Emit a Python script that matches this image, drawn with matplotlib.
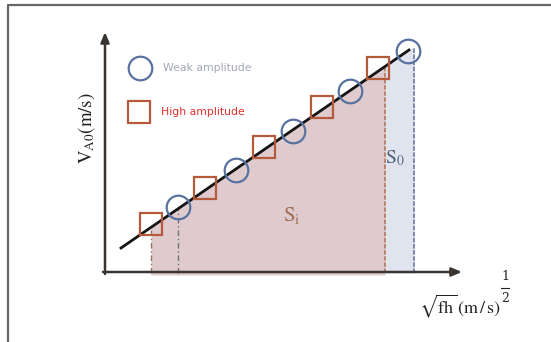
import matplotlib
matplotlib.use("Agg")
import matplotlib.pyplot as plt
import numpy as np

plt.rcParams["mathtext.fontset"] = "stix"
plt.rcParams["font.family"] = ["DejaVu Sans"]

# Diagram data (axis units: origin at the axes' corner)
line_x = [16, 304]
line_y = [24, 222]
weak_x = [73, 131, 188, 245, 303]
weak_y = [65, 102, 141, 181, 221]
high_x = [46, 100, 159, 217, 273]
high_y = [48, 84, 125, 165, 204]
si_x = [46, 280]          # S_i region bounds
s0_x = [280, 309]         # S_0 region bounds
s0_top = 225
legend_labels = ["Weak amplitude", "High amplitude"]

fig = plt.figure(figsize=(5.51, 3.42), dpi=100)
ax = fig.add_axes([0, 0, 1, 1])
ax.set_xlim(-105, 446)
ax.set_ylim(-70, 272)
ax.axis("off")

# outer frame
ax.plot([-97, -97, 446], [-72, 267, 267], color="#666666", lw=1.6,
        clip_on=False, solid_capstyle="butt")

def line_at(x):
    slope = (line_y[1] - line_y[0]) / (line_x[1] - line_x[0])
    return line_y[0] + slope * (np.asarray(x) - line_x[0])

# S_i fill (pink)
xs = np.linspace(si_x[0], si_x[1], 50)
ax.fill_between(xs, -3, line_at(xs), color="#dcc6c8", alpha=0.9, lw=0, zorder=1)
# S_0 fill (light blue)
xs2 = np.array([s0_x[0], s0_x[1]])
ax.fill_between(xs2, -1, [line_at(s0_x[0]), s0_top], color="#dfe4ee", lw=0, zorder=1)

# vertical dashed lines
ax.plot([si_x[0], si_x[0]], [-1, line_at(si_x[0])], color="#9a7060", lw=1, ls=(0, (4, 2, 1, 2)), zorder=2)
ax.plot([weak_x[0], weak_x[0]], [-1, line_at(weak_x[0])], color="#707080", lw=1, ls=(0, (4, 2, 1, 2)), zorder=2)
ax.plot([si_x[1], si_x[1]], [-1, line_at(si_x[1])], color="#b0704f", lw=1.1, ls=(0, (3, 1)), zorder=2)
ax.plot([s0_x[1], s0_x[1]], [-1, s0_top], color="#6070a0", lw=1.1, ls=(0, (3, 1)), zorder=2)

# axes arrows
ax.annotate("", xy=(357, 0), xytext=(-2, 0),
            arrowprops=dict(arrowstyle="-|>,head_length=0.6,head_width=0.25", color="#3a3530", lw=1.8,
                            shrinkA=0, shrinkB=0), zorder=3)
ax.annotate("", xy=(0, 240), xytext=(0, -2),
            arrowprops=dict(arrowstyle="-|>,head_length=0.6,head_width=0.25", color="#3a3530", lw=1.8,
                            shrinkA=0, shrinkB=0), zorder=3)

# fitted line
ax.plot(line_x, line_y, color="#151515", lw=2, zorder=4)

# markers
ax.plot(high_x, high_y, ls="none", marker="s", ms=16.5, mfc="none", mec="#b65a3c", mew=1.6, zorder=5)
ax.plot(weak_x, weak_y, ls="none", marker="o", ms=17, mfc="none", mec="#5872a0", mew=1.6, zorder=5)

# legend (manual)
ax.plot([35], [204], marker="o", ms=17, mfc="none", mec="#5872a0", mew=1.6)
ax.plot([34], [160], marker="s", ms=16.5, mfc="none", mec="#b65a3c", mew=1.6)
ax.text(58, 204, legend_labels[0], color="#a3a7b5", fontsize=7.8, va="center", ha="left")
ax.text(56, 160, legend_labels[1], color="#e0302a", fontsize=7.8, va="center", ha="left")

# region labels
ax.text(187, 57, r"$\mathrm{S_i}$", color="#a0705a", fontsize=15, ha="center", va="center")
ax.text(290, 114, r"$\mathrm{S_0}$", color="#55657e", fontsize=14, ha="center", va="center")

# axis labels
ax.text(-18, 144, r"$\mathrm{V_{A0}(m/s)}$", rotation=90, fontsize=13.5, ha="center", va="center",
        color="#222222")
ax.text(355, -34, r"$\sqrt{\mathrm{fh}}\,\mathrm{(m\,/\,s)}$", fontsize=13,
        ha="center", va="center", color="#222222")
ax.text(400, -5, "1", fontsize=9, ha="center", va="center", color="#222222", family="serif")
ax.plot([396, 404], [-16, -16], color="#222222", lw=0.8)
ax.text(400, -26, "2", fontsize=9, ha="center", va="center", color="#222222", family="serif")

fig.savefig("out.png", dpi=100)
